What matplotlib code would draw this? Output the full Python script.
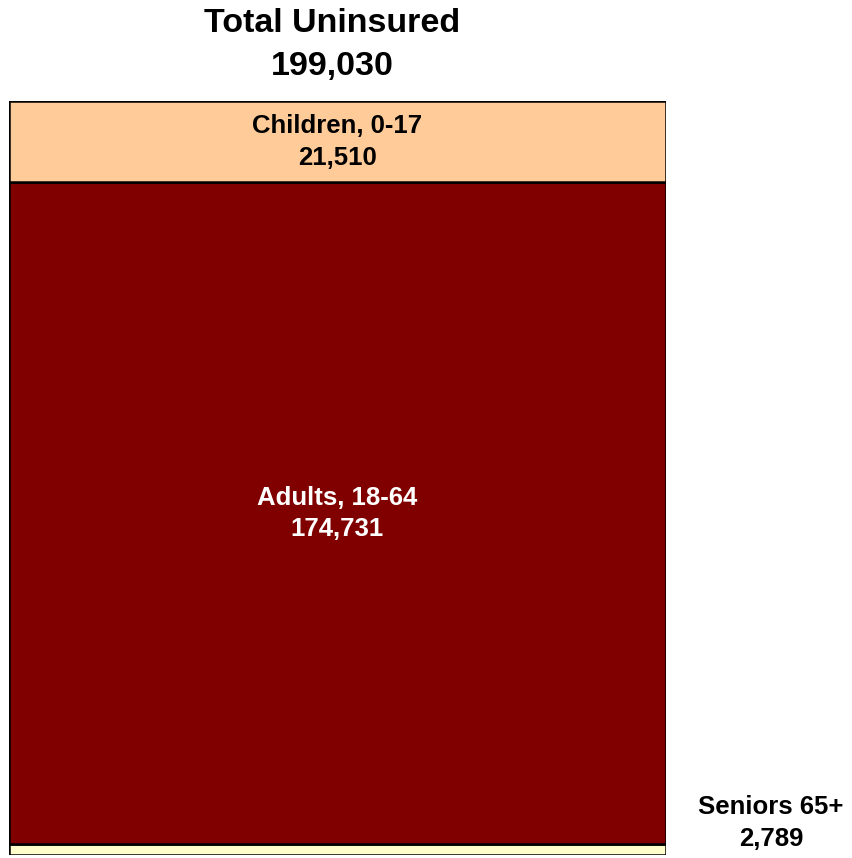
import matplotlib
matplotlib.use("Agg")
import matplotlib.pyplot as plt

categories = ["Seniors 65+", "Adults, 18-64", "Children, 0-17"]
values = [2789, 174731, 21510]
colors = ["#FFFFCC", "#800000", "#FFCC99"]
total = sum(values)

plt.rcParams['font.family'] = ['Liberation Sans', 'DejaVu Sans']

W, H = 853, 858
fig = plt.figure(figsize=(W/100, H/100), dpi=100)
ax = fig.add_axes([9/W, 3/H, (666-9)/W, (855-101)/H])
ax.set_xlim(0, 1)
ax.set_ylim(0, total)
ax.axis('off')

bottom = 0
for cat, v, c in zip(categories, values, colors):
    ax.bar(0.5, v, width=1.0, bottom=bottom, color=c, edgecolor='black', linewidth=1.8)
    bottom += v

fs = 18.5
ax.text(0.5, values[0] + values[1] + values[2]/2, f"{categories[2]}\n{values[2]:,}",
        ha='center', va='center', fontsize=fs, fontweight='bold', color='black', linespacing=1.4)
ax.text(0.5, values[0] + values[1]/2, f"{categories[1]}\n{values[1]:,}",
        ha='center', va='center', fontsize=fs, fontweight='bold', color='white', linespacing=1.4)
fig.text(771/W, 1 - 823/H, f"{categories[0]}\n{values[0]:,}",
         ha='center', va='center', fontsize=fs, fontweight='bold', color='black', linespacing=1.4)
fig.text(332/W, 1 - 45/H, f"Total Uninsured\n{total:,}",
         ha='center', va='center', fontsize=24.5, fontweight='bold', color='black', linespacing=1.47)

fig.savefig("out.png", dpi=100)
